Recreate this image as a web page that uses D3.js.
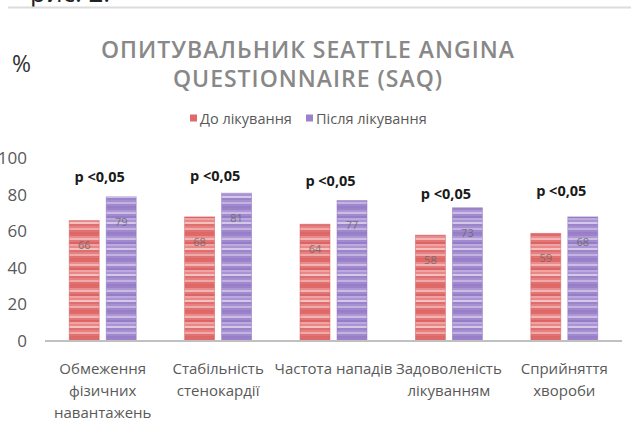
<!DOCTYPE html>
<html>
<head>
<meta charset="utf-8">
<script src="https://cdn.jsdelivr.net/npm/d3@7"></script>
<style>
  html, body { margin: 0; padding: 0; background: #fff; }
  svg { display: block; }
  text { font-family: "Open Sans", "Noto Sans", sans-serif; }
</style>
</head>
<body>
<svg id="chart" width="631" height="429"></svg>
<script>
// ---- data ----
const categories = [
  ["Обмеження", "фізичних", "навантажень"],
  ["Стабільність", "стенокардії"],
  ["Частота нападів"],
  ["Задоволеність", "лікуванням"],
  ["Сприйняття", "хвороби"]
];
const seriesNames = ["До лікування", "Після лікування"];
const beforeValues = [66, 68, 64, 58, 59];
const afterValues  = [79, 81, 77, 73, 68];
const pLabels = ["p <0,05", "p <0,05", "p <0,05", "p <0,05", "p <0,05"];
const pLabelLevel = [89, 90, 87, 80, 81.5];
const yTicks = [0, 20, 40, 60, 80, 100];
const titleLines = ["ОПИТУВАЛЬНИК SEATTLE ANGINA", "QUESTIONNAIRE (SAQ)"];

// ---- setup ----
const svg = d3.select("#chart");
const W = 631, H = 429;
const catKeys = categories.map(c => c.join(" "));

const x = d3.scaleBand().domain(catKeys).range([45, 622]);
const y = d3.scaleLinear().domain([0, 100]).range([341, 158.5]);

// stripe patterns
const defs = svg.append("defs");
function stripePattern(id, colors) {
  const h = colors.length * 2;
  const p = defs.append("pattern").attr("id", id)
    .attr("patternUnits", "userSpaceOnUse").attr("width", 4).attr("height", h);
  colors.forEach((c, i) => {
    p.append("rect").attr("x", 0).attr("y", i * 2).attr("width", 4).attr("height", 2).attr("fill", c);
  });
}
stripePattern("redStripes", ["#e06a6a", "#ea8c8c", "#f3b6b6", "#e37777", "#dc6464", "#efa3a3", "#e98686", "#f5c0c0", "#df6e6e", "#e78080", "#f0aaaa", "#e27272", "#dd6868"]);
stripePattern("purpleStripes", ["#9b82ca", "#ad98d4", "#cbbde6", "#a18ace", "#977dc7", "#bca9de", "#aa93d2", "#d3c7ea", "#9c84cb", "#a690d0", "#c3b3e1", "#a08acd", "#987ec8"]);

const seriesFill = ["url(#redStripes)", "url(#purpleStripes)"];
const seriesStroke = ["#d66060", "#9078c0"];
const legendColors = ["#e06a6a", "#9b82ca"];

// top rule + cut-off caption
svg.append("text").attr("x", 30).attr("y", 2).attr("font-size", 26)
  .attr("font-family", "Liberation Sans, Arial, sans-serif").attr("fill", "#222").text("рис. 2.");
svg.append("line").attr("x1", 8).attr("x2", W).attr("y1", 7.5).attr("y2", 7.5)
  .attr("stroke", "#dcdcdc").attr("stroke-width", 2);

// "%" label
svg.append("text").attr("x", 12).attr("y", 72).attr("font-size", 23).attr("fill", "#333").text("%");

// title
const title = svg.append("text").attr("text-anchor", "middle").attr("fill", "#888")
  .attr("font-size", 23).attr("font-weight", 600).attr("letter-spacing", 1.0);
titleLines.forEach((t, i) => {
  title.append("tspan").attr("x", 308).attr("y", 58 + i * 29).text(t);
});

// legend
const legendX = [190, 306];
seriesNames.forEach((s, i) => {
  svg.append("rect").attr("x", legendX[i]).attr("y", 114.5).attr("width", 7).attr("height", 7)
    .attr("fill", legendColors[i]);
  svg.append("text").attr("x", legendX[i] + 10).attr("y", 123.5).attr("font-size", 14.5)
    .attr("fill", "#595959").text(s);
});

// y axis labels
const yAxis = d3.axisLeft(y).tickValues(yTicks).tickSize(0).tickPadding(0);
const gy = svg.append("g").attr("transform", "translate(27,0)").call(yAxis);
gy.select(".domain").remove();
gy.selectAll("text").attr("font-size", 17).attr("fill", "#595959")
  .attr("font-family", "Open Sans, sans-serif");

// bars
const groups = svg.append("g").selectAll("g").data(catKeys).join("g")
  .attr("transform", d => `translate(${x(d) + x.bandwidth() / 2},0)`);

const xSub = d3.scaleBand().domain([0, 1]).range([-33.5, 33.5]).paddingInner(0.189);

groups.each(function(cat, ci) {
  const g = d3.select(this);
  const vals = [beforeValues[ci], afterValues[ci]];
  vals.forEach((v, si) => {
    g.append("rect")
      .attr("x", xSub(si)).attr("y", y(v))
      .attr("width", xSub.bandwidth()).attr("height", y(0) - y(v))
      .attr("fill", seriesFill[si])
      .attr("stroke", seriesStroke[si]).attr("stroke-width", 0.8).attr("stroke-opacity", 0.6);
    g.append("text")
      .attr("x", xSub(si) + xSub.bandwidth() / 2).attr("y", y(v) + 26)
      .attr("text-anchor", "middle").attr("dominant-baseline", "middle")
      .attr("font-size", 11).attr("fill", "#6a6a6a").attr("opacity", 0.85)
      .text(v);
  });
  g.append("text")
    .attr("x", -3).attr("y", y(pLabelLevel[ci]))
    .attr("text-anchor", "middle").attr("dominant-baseline", "middle")
    .attr("font-size", 14.5).attr("font-weight", 700).attr("fill", "#1a1a1a")
    .text(pLabels[ci]);
});

// baseline
svg.append("line").attr("x1", 45).attr("x2", 622).attr("y1", y(0)).attr("y2", y(0))
  .attr("stroke", "#c0c0c0").attr("stroke-width", 2);

// x labels
const xAxis = d3.axisBottom(x).tickSize(0).tickFormat(() => "");
const gx = svg.append("g").attr("transform", `translate(0,${y(0)})`).call(xAxis);
gx.select(".domain").remove();
gx.selectAll(".tick").each(function(d, i) {
  const t = d3.select(this).append("text").attr("text-anchor", "middle")
    .attr("font-size", 15).attr("fill", "#595959");
  categories[i].forEach((line, li) => {
    t.append("tspan").attr("x", 0).attr("y", 32.5 + li * 22).text(line);
  });
});
</script>
</body>
</html>
